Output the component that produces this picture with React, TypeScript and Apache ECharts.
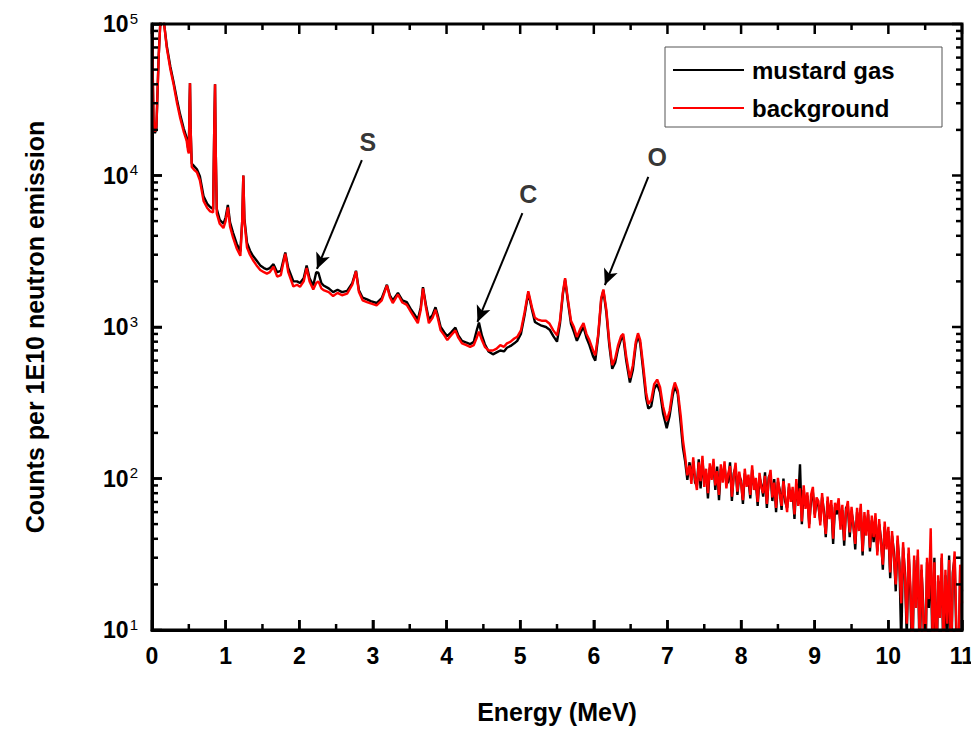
import React, { useEffect, useRef } from "react";
import * as echarts from "echarts";

// Low-energy part of the spectrum (irregular channels so the narrow lines are kept)
const energyLow = [
  0.0, 0.02, 0.04, 0.06, 0.09, 0.12, 0.16, 0.2, 0.25, 0.29, 0.34, 0.38, 0.43, 0.47, 0.49, 0.5, 0.51, 0.516, 0.525,
  0.54, 0.58, 0.61, 0.65, 0.7, 0.75, 0.79, 0.83, 0.845, 0.856, 0.865, 0.88, 0.92, 0.97, 1.0, 1.03, 1.06, 1.1, 1.15,
  1.2, 1.225, 1.24, 1.255, 1.29, 1.33, 1.37, 1.42, 1.47, 1.52, 1.56, 1.6, 1.65, 1.7, 1.75, 1.78, 1.81, 1.85, 1.92,
  1.97, 2.01, 2.06, 2.1, 2.14, 2.19, 2.23, 2.26, 2.3, 2.33, 2.4, 2.46, 2.52, 2.58, 2.65, 2.72, 2.77, 2.81, 2.86,
  2.92, 2.97, 3.05, 3.12, 3.19, 3.23, 3.27, 3.34, 3.4, 3.46, 3.52, 3.56, 3.61, 3.65, 3.68, 3.72, 3.76, 3.81, 3.85,
  3.88, 3.92, 3.97, 4.01, 4.06, 4.12, 4.16, 4.21, 4.27, 4.32, 4.37, 4.41, 4.44, 4.48, 4.52, 4.57, 4.63, 4.68, 4.73,
  4.78, 4.82, 4.87, 4.92, 4.96, 5.01, 5.06, 5.11, 5.16, 5.2, 5.24, 5.29, 5.35, 5.4, 5.45, 5.5, 5.54, 5.58, 5.61,
  5.65, 5.69, 5.73, 5.77, 5.82, 5.86, 5.9, 5.94, 5.99, 6.02, 6.06, 6.1, 6.13, 6.17, 6.21, 6.25, 6.29, 6.33, 6.37,
  6.4, 6.44, 6.49, 6.53, 6.57, 6.6, 6.63, 6.67, 6.71, 6.74, 6.78, 6.82, 6.86, 6.9, 6.94, 6.99, 7.03, 7.07, 7.1,
  7.14, 7.18, 7.21, 7.24, 7.27,
];

const backgroundLow = [
  95000, 24000, 19500, 21000, 60000, 120000, 105000, 70000, 50000, 40700, 30000, 24300, 19500, 17000, 14500, 14000,
  30000, 40700, 20000, 11400, 10800, 10500, 9300, 6800, 6100, 5800, 5700, 20000, 40000, 15000, 5600, 4800, 4500,
  5000, 6150, 4600, 3900, 3300, 2950, 5000, 10000, 5000, 3350, 3000, 2770, 2550, 2380, 2300, 2250, 2300, 2500, 2150,
  2200, 2600, 3050, 2300, 1850, 1900, 1840, 2000, 2450, 2000, 1770, 1950, 2000, 1800, 1750, 1700, 1600, 1680, 1620,
  1660, 1900, 2330, 1700, 1500, 1460, 1430, 1390, 1500, 1880, 1580, 1440, 1640, 1450, 1400, 1250, 1160, 1060, 1300,
  1800, 1350, 1060, 1150, 1300, 1150, 950, 880, 820, 880, 950, 850, 780, 760, 740, 760, 850, 930, 820, 740, 700, 700,
  720, 760, 740, 780, 800, 840, 860, 950, 1250, 1720, 1350, 1150, 1120, 1100, 1100, 1050, 950, 880, 1100, 1700, 2100,
  1500, 1100, 1000, 860, 980, 1060, 900, 820, 700, 650, 900, 1550, 1770, 1300, 800, 560, 620, 760, 870, 900, 640,
  460, 560, 800, 910, 820, 560, 370, 310, 330, 420, 450, 400, 300, 240, 280, 380, 430, 380, 260, 180, 140, 105,
];

const mustardLow = [
  92000, 23000, 19000, 20500, 60000, 120000, 105000, 72000, 52000, 42000, 31500, 25500, 20500, 17800, 15200, 14700,
  30000, 40700, 20000, 12000, 11400, 11000, 9900, 7300, 6500, 6200, 6000, 20000, 40000, 15000, 6000, 5100, 4800,
  5300, 6400, 4900, 4200, 3550, 3150, 5000, 10000, 5200, 3600, 3200, 2950, 2750, 2550, 2450, 2400, 2450, 2600, 2300,
  2350, 2700, 3100, 2450, 2000, 2000, 1950, 2100, 2550, 2100, 1880, 2300, 2280, 1950, 1880, 1800, 1700, 1760, 1700,
  1730, 1950, 2350, 1750, 1560, 1520, 1480, 1440, 1550, 1900, 1620, 1500, 1680, 1500, 1460, 1300, 1220, 1120, 1350,
  1830, 1400, 1120, 1200, 1350, 1200, 1000, 920, 870, 920, 990, 880, 810, 790, 770, 800, 950, 1070, 880, 770, 690,
  660, 680, 700, 690, 730, 750, 780, 810, 900, 1200, 1680, 1300, 1080, 1050, 1020, 1000, 960, 870, 800, 1050, 1650,
  2050, 1450, 1050, 930, 810, 920, 1000, 850, 760, 640, 600, 870, 1500, 1740, 1250, 760, 530, 580, 720, 830, 860,
  600, 430, 520, 760, 880, 780, 520, 340, 290, 300, 390, 420, 370, 270, 215, 260, 350, 410, 360, 230, 160, 130, 98,
];

// High-energy tail, channels every 0.025 MeV from 7.3 MeV
const tailStart = 7.3;
const tailStep = 0.025;

const backgroundTail = [
  122, 92, 138, 100, 84, 128, 96, 141, 88, 116,
  80, 126, 98, 135, 90, 112, 78, 124, 94, 130,
  86, 108, 121, 76, 102, 127, 82, 111, 92, 72,
  116, 88, 106, 78, 122, 84, 101, 70, 109, 87,
  80, 104, 68, 98, 114, 75, 94, 64, 101, 80,
  66, 96, 74, 60, 93, 70, 88, 58, 99, 66,
  86, 52, 90, 63, 81, 47, 78, 88, 55, 75,
  71, 49, 80, 57, 43, 76, 54, 72, 40, 69,
  62, 74, 46, 67, 39, 61, 71, 44, 65, 48,
  37, 64, 45, 68, 33, 60, 42, 62, 35, 57,
  41, 59, 31, 54, 37, 27, 52, 34, 48, 24,
  45, 30, 20, 42, 26, 15, 38, 22, 11, 35,
  19, 7, 31, 14, 34, 8, 27, 12, 6, 30,
  16, 47, 9, 28, 5, 23, 12, 32, 7, 25,
  11, 29, 6, 22, 33, 10, 5, 27, 15,
];

const mustardTail = [
  128, 98, 130, 94, 90, 134, 86, 132, 95, 109,
  74, 118, 104, 127, 84, 120, 72, 116, 100, 122,
  92, 95, 128, 71, 108, 119, 78, 104, 97, 68,
  108, 94, 99, 74, 114, 90, 96, 66, 102, 92,
  76, 110, 64, 102, 107, 71, 99, 60, 95, 84,
  62, 100, 70, 64, 88, 74, 82, 54, 92, 70,
  124, 50, 84, 66, 77, 50, 72, 81, 58, 70,
  66, 52, 75, 61, 41, 71, 57, 67, 37, 65,
  58, 70, 49, 62, 36, 64, 66, 41, 60, 51,
  34, 60, 48, 64, 31, 56, 45, 58, 33, 53,
  38, 55, 33, 50, 40, 25, 48, 36, 45, 22,
  42, 33, 18, 39, 28, 8, 35, 24, 9, 32,
  17, 5, 29, 16, 31, 6, 25, 14, 4, 28,
  14, 31, 7, 30, 4, 21, 14, 30, 5, 23,
  9, 31, 4, 24, 30, 8, 4, 25, 18,
];

// Element annotations: label position, arrow start and arrow tip (MeV, counts)
const peakNames = ["S", "C", "O"];
const peakLabelAt = [[2.93, 16640], [5.11, 7550], [6.86, 13250]];
const arrowFrom = [[2.85, 12650], [5.03, 5650], [6.74, 9780]];
const arrowTo = [[2.24, 2415], [4.42, 1080], [6.15, 1890]];

// Axis ranges and tick positions of the frame
const xRange = [0, 11];
const yRange = [10, 100000];
const xMajorTicks = [0, 1, 2, 3, 4, 5, 6, 7, 8, 9, 10, 11];
const xMinorTicks = [0.5, 1.5, 2.5, 3.5, 4.5, 5.5, 6.5, 7.5, 8.5, 9.5, 10.5];
const yMajorTicks = [10, 100, 1000, 10000, 100000];
const yMinorTicks = [10, 100, 1000, 10000].flatMap((d) => [2, 3, 4, 5, 6, 7, 8, 9].map((m) => m * d));

const legendNames = ["mustard gas", "background"];
const seriesColors = ["#000000", "#ff0000"];

const FONT = "'Liberation Sans', Arial, sans-serif";

// Plot area inside the 979 x 734 canvas
const GRID = { left: 152, top: 24, right: 17, bottom: 104 };
const WIDTH = 979;
const HEIGHT = 734;

function pairs(x: number[], y: number[]) {
  return x.map((e, i) => [e, y[i]]);
}

export default function App() {
  const ref = useRef<HTMLDivElement>(null);

  useEffect(() => {
    if (!ref.current) return;
    const chart = echarts.init(ref.current, undefined, { renderer: "svg" });

    const tailEnergy = backgroundTail.map((_, i) => +(tailStart + i * tailStep).toFixed(3));
    const bgData = pairs(energyLow, backgroundLow).concat(pairs(tailEnergy, backgroundTail));
    const mgData = pairs(energyLow, mustardLow).concat(pairs(tailEnergy, mustardTail));

    // Frame geometry, following the same linear / log10 mapping as the axes
    const left = GRID.left;
    const top = GRID.top;
    const right = WIDTH - GRID.right;
    const bottom = HEIGHT - GRID.bottom;
    const xPix = (v: number) => left + ((v - xRange[0]) / (xRange[1] - xRange[0])) * (right - left);
    const logMin = Math.log10(yRange[0]);
    const logMax = Math.log10(yRange[1]);
    const yPix = (v: number) => bottom - ((Math.log10(v) - logMin) / (logMax - logMin)) * (bottom - top);

    const tickStyle = { stroke: "#000", lineWidth: 2.5 };
    const frame: any[] = [
      {
        type: "rect",
        shape: { x: left, y: top, width: right - left, height: bottom - top },
        style: { fill: "none", stroke: "#000", lineWidth: 3 },
        z: 110,
        silent: true,
      },
    ];
    const hTick = (y: number, len: number) => {
      frame.push(
        { type: "line", shape: { x1: left, y1: y, x2: left + len, y2: y }, style: tickStyle, z: 110, silent: true },
        { type: "line", shape: { x1: right - len, y1: y, x2: right, y2: y }, style: tickStyle, z: 110, silent: true }
      );
    };
    const vTick = (x: number, len: number) => {
      frame.push(
        { type: "line", shape: { x1: x, y1: bottom, x2: x, y2: bottom - len }, style: tickStyle, z: 110, silent: true },
        { type: "line", shape: { x1: x, y1: top, x2: x, y2: top + len }, style: tickStyle, z: 110, silent: true }
      );
    };
    xMajorTicks.forEach((v) => vTick(xPix(v), 10));
    xMinorTicks.forEach((v) => vTick(xPix(v), 6));
    yMajorTicks.forEach((v) => hTick(yPix(v), 10));
    yMinorTicks.forEach((v) => hTick(yPix(v), 6));

    // Legend box
    const legendBox = { x: 665, y: 47, w: 277, h: 80 };
    const legendGraphic: any[] = [
      {
        type: "rect",
        shape: { x: legendBox.x, y: legendBox.y, width: legendBox.w, height: legendBox.h },
        style: { fill: "#fff", stroke: "#555", lineWidth: 1 },
        z: 120,
        silent: true,
      },
    ];
    legendNames.forEach((name, i) => {
      const cy = legendBox.y + 23 + i * 38;
      legendGraphic.push(
        {
          type: "line",
          shape: { x1: legendBox.x + 8, y1: cy, x2: legendBox.x + 79, y2: cy },
          style: { stroke: seriesColors[i], lineWidth: 2 },
          z: 121,
          silent: true,
        },
        {
          type: "text",
          x: legendBox.x + 87,
          y: cy,
          style: {
            text: name,
            fontSize: 24,
            fontWeight: "bold",
            fontFamily: FONT,
            fill: "#000",
            verticalAlign: "middle",
          },
          z: 121,
          silent: true,
        }
      );
    });

    const axisLine = { show: true, onZero: false, lineStyle: { color: "#000", width: 3 } };
    const axisTick = { show: true, inside: true, length: 10, lineStyle: { color: "#000", width: 2.5 } };

    chart.setOption({
      animation: false,
      backgroundColor: "#fff",
      grid: { left: GRID.left, right: GRID.right, top: GRID.top, bottom: GRID.bottom },
      graphic: [
        {
          type: "rect",
          shape: { x: 0, y: 0, width: WIDTH, height: 4 },
          style: {
            fill: new echarts.graphic.LinearGradient(0, 0, 1, 0, [
              { offset: 0, color: "#f1f7fd" },
              { offset: 1, color: "#cde8fb" },
            ]),
          },
          silent: true,
        },
        {
          type: "rect",
          shape: { x: 0, y: 0, width: 8, height: HEIGHT },
          style: { fill: "#f4f8fd" },
          silent: true,
        },
        ...frame,
        ...legendGraphic,
      ],
      xAxis: {
        type: "value",
        min: xRange[0],
        max: xRange[1],
        interval: 1,
        axisLine,
        axisTick,
        splitLine: { show: false },
        name: "Energy (MeV)",
        nameLocation: "middle",
        nameGap: 69,
        nameTextStyle: { fontSize: 25, fontWeight: "bold", fontFamily: FONT, color: "#000" },
        axisLabel: { fontSize: 23, fontWeight: "bold", fontFamily: FONT, color: "#000", margin: 14 },
      },
      yAxis: {
        type: "log",
        logBase: 10,
        min: yRange[0],
        max: yRange[1],
        axisLine,
        axisTick,
        splitLine: { show: false },
        name: "Counts per 1E10 neutron emission",
        nameLocation: "middle",
        nameGap: 105,
        nameTextStyle: { fontSize: 25, fontWeight: "bold", fontFamily: FONT, color: "#000" },
        axisLabel: {
          margin: 14,
          formatter: (v: number) => `{b|10}{s|${Math.round(Math.log10(v))}}`,
          rich: {
            b: { fontSize: 23, fontWeight: "bold", fontFamily: FONT, color: "#000" },
            s: { fontSize: 15, fontFamily: FONT, color: "#000", verticalAlign: "top", padding: [0, 0, 12, 1] },
          },
        },
      },
      series: [
        {
          name: legendNames[0],
          type: "line",
          data: mgData,
          showSymbol: false,
          symbol: "none",
          color: seriesColors[0],
          lineStyle: { color: seriesColors[0], width: 2.4 },
          clip: true,
          z: 2,
          markLine: {
            silent: true,
            symbol: ["none", "arrow"],
            symbolSize: [11, 16],
            label: { show: false },
            lineStyle: { color: "#000", width: 2, type: "solid" },
            data: arrowFrom.map((from, i) => [{ coord: from }, { coord: arrowTo[i] }]),
          },
        },
        {
          name: legendNames[1],
          type: "line",
          data: bgData,
          showSymbol: false,
          symbol: "none",
          color: seriesColors[1],
          lineStyle: { color: seriesColors[1], width: 2.4 },
          clip: true,
          z: 3,
        },
        {
          name: "peaks",
          type: "scatter",
          data: peakLabelAt.map((p, i) => [p[0], p[1], peakNames[i]]),
          symbolSize: 2,
          itemStyle: { color: "rgba(0,0,0,0)" },
          silent: true,
          label: {
            show: true,
            position: "inside",
            formatter: (p: any) => p.data[2],
            fontSize: 25,
            fontWeight: "bold",
            fontFamily: FONT,
            color: "#000",
          },
          z: 5,
        },
      ],
    });

    return () => chart.dispose();
  }, []);

  return <div ref={ref} style={{ width: WIDTH, height: HEIGHT, margin: -8 }} />;
}
